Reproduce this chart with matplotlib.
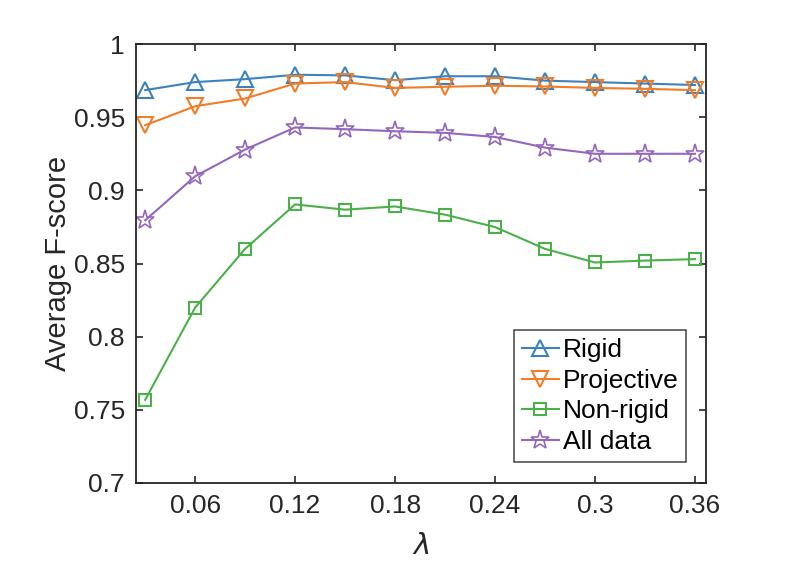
import matplotlib.pyplot as plt
import numpy as np

plt.rcParams['font.family'] = ['Liberation Sans', 'DejaVu Sans']

lam = [0.03, 0.06, 0.09, 0.12, 0.15, 0.18, 0.21, 0.24, 0.27, 0.30, 0.33, 0.36]
rigid = [0.9685, 0.974, 0.976, 0.979, 0.9786, 0.9753, 0.978, 0.978, 0.975, 0.974, 0.973, 0.972]
projective = [0.9445, 0.9575, 0.9628, 0.973, 0.974, 0.970, 0.9708, 0.9715, 0.971, 0.970, 0.9694, 0.9685]
nonrigid = [0.7568, 0.8199, 0.860, 0.8904, 0.8868, 0.889, 0.8834, 0.8749, 0.860, 0.8507, 0.852, 0.853]
alldata = [0.8795, 0.9096, 0.9279, 0.943, 0.9418, 0.9404, 0.9393, 0.9365, 0.9292, 0.925, 0.925, 0.925]

xticks = [0.06, 0.12, 0.18, 0.24, 0.30, 0.36]
xticklabels = ['0.06', '0.12', '0.18', '0.24', '0.3', '0.36']
yticks = [0.7, 0.75, 0.8, 0.85, 0.9, 0.95, 1.0]
yticklabels = ['0.7', '0.75', '0.8', '0.85', '0.9', '0.95', '1']

fig = plt.figure(figsize=(7.86, 5.72), dpi=100)
ax = fig.add_axes([0.173, 0.1556, 0.725, 0.7674])

ax.plot(lam, rigid, '-^', color='#3c82be', lw=1.5, ms=12, mfc='none', mew=1.5, label='Rigid')
ax.plot(lam, projective, '-v', color='#f07d28', lw=1.5, ms=12, mfc='none', mew=1.5, label='Projective')
ax.plot(lam, nonrigid, '-s', color='#4cb04a', lw=1.5, ms=8, mfc='none', mew=1.5, label='Non-rigid')
ax.plot(lam, alldata, '-*', color='#9467bd', lw=1.5, ms=14, mfc='none', mew=1.2, label='All data')

ax.set_xlim(0.0245, 0.3665)
ax.set_ylim(0.7, 1.0)
ax.set_xticks(xticks)
ax.set_xticklabels(xticklabels)
ax.set_yticks(yticks)
ax.set_yticklabels(yticklabels)
ax.tick_params(direction='in', length=5, width=1.2, top=True, right=True,
               labelsize=19, colors='#262626', pad=8)
for s in ax.spines.values():
  s.set_linewidth(1.3)
  s.set_color('#262626')

ax.set_xlabel(r'$\lambda$', fontsize=21, color='#262626', labelpad=10)
ax.set_ylabel('Average F-score', fontsize=21, color='#262626', labelpad=1)

leg = ax.legend(loc='lower right', bbox_to_anchor=(0.966, 0.048), fontsize=19,
                frameon=True, fancybox=False, edgecolor='#262626',
                handlelength=1.4, handletextpad=0.15, borderpad=0.3, labelspacing=0.25,
                borderaxespad=0)
leg.get_frame().set_linewidth(1.2)

fig.savefig('out.png', dpi=100)
